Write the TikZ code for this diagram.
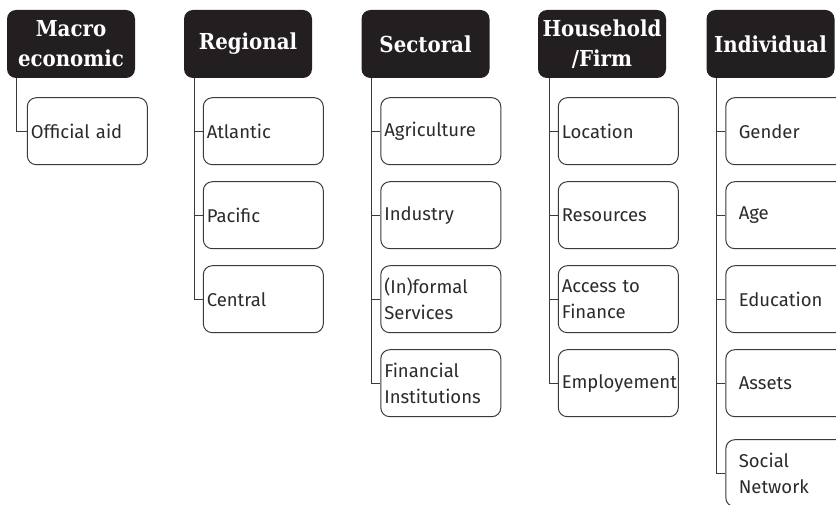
\documentclass[tikz,border=0pt]{standalone}
\usepackage{fontspec}
\setmainfont{Fira Sans}
\newfontfamily\headfont{DejaVu Serif Condensed}
\usepackage{xcolor}
\usetikzlibrary{positioning, calc}

\definecolor{headblack}{HTML}{231F20}
\definecolor{linegray}{HTML}{3A3A3A}
\definecolor{textgray}{HTML}{2B2B2B}

\begin{document}
\begin{tikzpicture}[
  x=1pt, y=-1pt,
  font=\fontsize{18.5}{26}\selectfont,
  head/.style={fill=headblack, text=white, rounded corners=9pt, minimum width=128pt, minimum height=68pt, align=center, inner sep=2pt, font=\headfont\bfseries\fontsize{22}{30}\selectfont},
  item/.style={draw=linegray, line width=1pt, rounded corners=9pt, text width=113pt, minimum height=67pt, inner xsep=3.5pt, align=left, text=textgray},
  wide/.style={text width=110pt, inner xsep=13pt},
  link/.style={draw=linegray, line width=1.2pt},
]
\useasboundingbox (0,0) rectangle (836,505);

% Level headers
\node[head] (macro) at (71,44) {Macro\\economic};
\node[head] (regional) at (248,44) {Regional};
\node[head] (sectoral) at (425.5,44) {Sectoral};
\node[head] (house) at (602,44) {Household\\/Firm};
\node[head] (indiv) at (770.5,44) {Individual};

% Macro economic
\node[item, anchor=north west] (aid) at ($(macro.south west)+(20,19)$) {Official aid};

% Regional
\node[item, anchor=north west] (atlantic) at ($(regional.south west)+(19,19)$) {Atlantic};
\node[item, below=16pt of atlantic] (pacific) {Pacific};
\node[item, below=16pt of pacific] (central) {Central};

% Sectoral
\node[item, anchor=north west] (agri) at ($(sectoral.south west)+(19,19)$) {Agriculture};
\node[item, below=16pt of agri] (industry) {Industry};
\node[item, below=16pt of industry] (services) {(In)formal\\Services};
\node[item, below=16pt of services] (fininst) {Financial\\Institutions};

% Household / Firm
\node[item, anchor=north west] (location) at ($(house.south west)+(20,19)$) {Location};
\node[item, below=16pt of location] (resources) {Resources};
\node[item, below=16pt of resources] (finance) {Access to\\Finance};
\node[item, below=16pt of finance] (employ) {Employement};

% Individual (runs past the right edge)
\node[item, wide, anchor=north west] (gender) at ($(indiv.south west)+(19,19)$) {Gender};
\node[item, wide, below=16pt of gender] (age) {Age};
\node[item, wide, below=16pt of age] (educ) {Education};
\node[item, wide, below=16pt of educ] (assets) {Assets};
\node[item, wide, below=22pt of assets] (social) {Social\\Network};

% connectors
\draw[link] ([xshift=10pt]macro.south west) |- (aid.west);
\foreach \c in {atlantic, pacific, central}
  \draw[link] ([xshift=11pt]regional.south west) |- (\c.west);
\foreach \c in {agri, industry, services, fininst}
  \draw[link] ([xshift=10pt]sectoral.south west) |- (\c.west);
\foreach \c in {location, resources, finance, employ}
  \draw[link] ([xshift=12pt]house.south west) |- (\c.west);
\foreach \c in {gender, age, educ, assets, social}
  \draw[link] ([xshift=10pt]indiv.south west) |- (\c.west);
\end{tikzpicture}
\end{document}
